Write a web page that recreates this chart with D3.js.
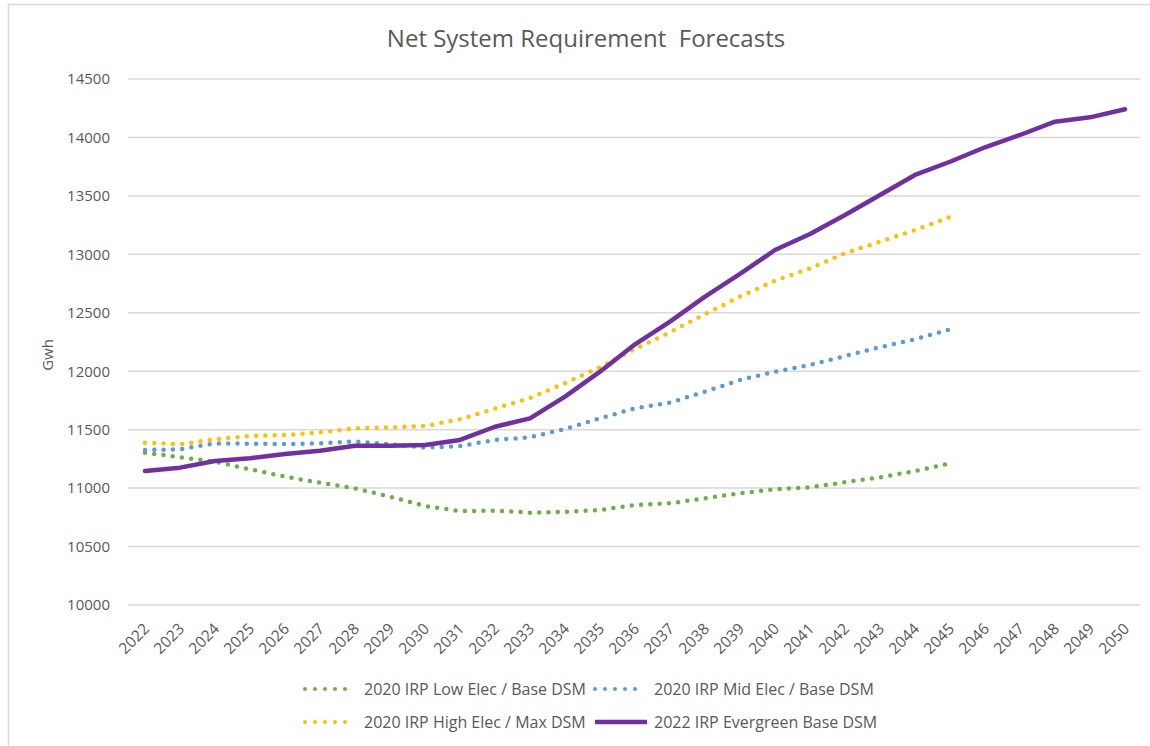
<!DOCTYPE html>
<html>
<head>
<meta charset="utf-8">
<script src="https://cdn.jsdelivr.net/npm/d3@7"></script>
<style>
  body { margin: 0; background: #fff; }
  text { font-family: "Open Sans", "Liberation Sans", sans-serif; fill: #595959; }
</style>
</head>
<body>
<svg id="chart"></svg>
<script>
const width = 1150;
const height = 746;

const years = d3.range(2022, 2051).map(String);
const yTicks = [10000, 10500, 11000, 11500, 12000, 12500, 13000, 13500, 14000, 14500];

const lowElec = [11303, 11264, 11226, 11161, 11098, 11046, 10998, 10927, 10847, 10804, 10807, 10790,
  10796, 10813, 10855, 10870, 10913, 10956, 10990, 11007, 11050, 11092, 11146, 11212];
const midElec = [11326, 11332, 11383, 11380, 11377, 11383, 11400, 11375, 11346, 11360, 11412, 11435,
  11506, 11597, 11683, 11731, 11825, 11925, 11996, 12053, 12130, 12205, 12273, 12359];
const highElec = [11389, 11375, 11418, 11446, 11454, 11477, 11511, 11520, 11531, 11589, 11680, 11771,
  11897, 12034, 12190, 12333, 12489, 12638, 12774, 12880, 13009, 13108, 13208, 13319];
const evergreen = [11146, 11175, 11232, 11255, 11292, 11320, 11363, 11363, 11369, 11412, 11525, 11597,
  11782, 11996, 12230, 12424, 12638, 12832, 13037, 13174, 13336, 13508, 13679, 13792, 13916, 14021,
  14135, 14172, 14241];

const series = [
  {name: '2020 IRP Low Elec / Base DSM', values: lowElec, color: '#70AD47', dotted: true},
  {name: '2020 IRP Mid Elec / Base DSM', values: midElec, color: '#5B9BD5', dotted: true},
  {name: '2020 IRP High Elec / Max DSM', values: highElec, color: '#FFC000', dotted: true},
  {name: '2022 IRP Evergreen Base DSM', values: evergreen, color: '#7030A0', dotted: false}
];

const svg = d3.select('#chart').attr('width', width).attr('height', height);

// chart border
svg.append('rect')
  .attr('x', 8.5).attr('y', 4.5)
  .attr('width', width + 20).attr('height', height + 20)
  .attr('fill', 'none').attr('stroke', '#d9d9d9').attr('stroke-width', 1.5);

const x = d3.scalePoint().domain(years).range([145, 1125]);
const y = d3.scaleLinear().domain([10000, 14500]).range([605, 79]);

// gridlines
svg.append('g').selectAll('line')
  .data(yTicks).enter().append('line')
  .attr('x1', 128).attr('x2', 1140)
  .attr('y1', d => y(d)).attr('y2', d => y(d))
  .attr('stroke', '#d9d9d9').attr('stroke-width', 1.5);

const yAxis = svg.append('g')
  .attr('transform', 'translate(128, 0)')
  .call(d3.axisLeft(y).tickValues(yTicks).tickSize(0).tickPadding(18).tickFormat(d3.format('d')));
yAxis.select('.domain').remove();
yAxis.selectAll('text').style('font-size', '15px').attr('fill', '#595959');

const xAxis = svg.append('g')
  .attr('transform', 'translate(0, 605)')
  .call(d3.axisBottom(x).tickSize(0));
xAxis.select('.domain').remove();
xAxis.selectAll('text')
  .style('font-size', '15.5px')
  .attr('fill', '#595959')
  .attr('text-anchor', 'end')
  .attr('y', 0)
  .attr('dy', '0.35em')
  .attr('transform', 'translate(1, 21) rotate(-45)');

// title
svg.append('text')
  .attr('x', 586).attr('y', 47)
  .attr('text-anchor', 'middle')
  .style('font-size', '24px')
  .style('white-space', 'pre')
  .text('Net System Requirement  Forecasts');

svg.append('text')
  .attr('transform', 'translate(53, 355) rotate(-90)')
  .attr('text-anchor', 'middle')
  .style('font-size', '15px')
  .text('Gwh');

const line = d3.line()
  .x((d, i) => x(years[i]))
  .y(d => y(d));

svg.append('g').selectAll('path')
  .data(series).enter().append('path')
  .attr('d', s => line(s.values))
  .attr('fill', 'none')
  .attr('stroke', s => s.color)
  .attr('stroke-width', 4.5)
  .attr('stroke-linecap', 'round')
  .attr('stroke-linejoin', 'round')
  .attr('stroke-dasharray', s => s.dotted ? '0 9.3' : null);

// legend
const legendPos = [[305, 689], [595, 689], [305, 722], [595, 722]];
const legend = svg.append('g').selectAll('g')
  .data(series).enter().append('g')
  .attr('transform', (s, i) => `translate(${legendPos[i][0]}, ${legendPos[i][1]})`);

legend.append('line')
  .attr('x1', 0).attr('x2', s => s.dotted ? 50 : 52)
  .attr('stroke', s => s.color)
  .attr('stroke-width', s => s.dotted ? 4 : 4.5)
  .attr('stroke-linecap', s => s.dotted ? 'round' : 'butt')
  .attr('stroke-dasharray', s => s.dotted ? '0 10' : null);

legend.append('text')
  .attr('x', 59).attr('dy', '0.35em')
  .style('font-size', '16px')
  .text(s => s.name);
</script>
</body>
</html>
